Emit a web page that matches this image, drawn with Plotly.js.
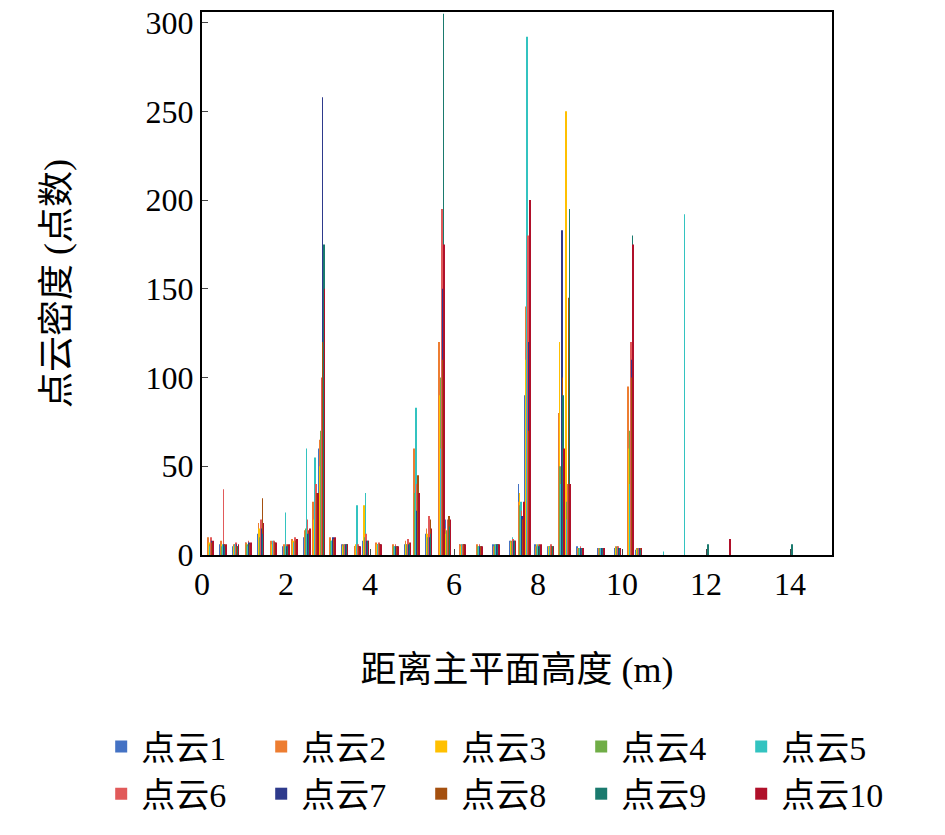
<!DOCTYPE html>
<html><head><meta charset="utf-8">
<script src="https://cdn.plot.ly/plotly-3.0.1.min.js"></script>
<style>body{margin:0;background:#fff}</style></head>
<body><div id="chart" style="width:945px;height:835px"></div>
<script>
// bar positions (m), shared by all point clouds
var heights = [0.2,0.5,0.8,1.1,1.4,1.7,2.0,2.2,2.5,2.7,2.85,3.1,3.4,3.7,3.9,4.2,4.6,4.9,5.1,5.4,5.7,5.85,6.2,6.6,7.0,7.4,7.6,7.75,8.0,8.3,8.55,8.7,9.0,9.5,9.9,10.2,10.4,11.0,11.5,12.0,12.5,13.0,14.0];

var names = ['点云1','点云2','点云3','点云4','点云5','点云6','点云7','点云8','点云9','点云10'];
var colors = ['#4472C4','#ED7D31','#FFC000','#70AD47','#33C3C0','#E15A5A','#2E3A8C','#A5500F','#1A7A6E','#B0102A'];

var cloud1 = [8,6,5,7,12,6,5,7,10,25,60,8,6,5,8,6,5,6,30,12,80,20,6,5,6,8,40,90,6,5,60,20,5,4,4,45,3,0,0,0,0,0,0];
var cloud2 = [10,8,6,7,18,8,6,9,14,30,65,10,6,5,6,7,6,8,60,15,120,15,6,6,5,8,30,140,5,5,80,45,4,4,5,95,4,0,0,0,0,0,0];
var cloud3 = [7,6,5,6,15,6,5,8,12,20,50,8,5,6,28,6,5,6,25,12,90,12,5,5,5,7,35,110,6,5,120,250,4,4,4,60,3,0,0,0,0,0,0];
var cloud4 = [6,5,6,6,10,7,5,7,15,22,70,8,6,5,10,6,5,6,35,10,100,14,6,5,6,8,28,200,5,5,50,30,4,4,5,70,4,0,0,0,0,0,0];
var cloud5 = [5,6,6,5,12,8,24,7,60,55,40,8,6,28,35,6,5,7,83,12,60,18,6,5,6,10,30,292,6,5,40,20,4,4,4,40,4,2,192,0,0,0,0];
var cloud6 = [10,37,7,8,20,8,6,10,20,40,100,9,6,6,12,7,6,9,40,22,195,20,6,6,6,9,25,180,6,6,70,40,5,4,5,120,4,0,0,0,0,0,0];
var cloud7 = [8,6,6,7,15,7,5,8,12,30,258,10,6,5,8,6,5,6,25,10,150,15,6,5,6,8,22,120,5,5,183,50,4,4,4,110,4,0,0,0,0,0,0];
var cloud8 = [7,6,5,6,32,7,6,8,14,35,120,9,6,5,7,6,5,7,45,20,110,22,6,5,6,8,20,70,6,5,100,145,4,4,4,100,4,0,0,0,0,0,0];
var cloud9 = [6,5,5,6,12,6,5,7,12,28,175,8,6,5,8,6,5,6,30,12,305,16,6,5,6,8,25,160,5,5,90,195,4,4,4,180,3,0,0,6,0,0,6];
var cloud10 = [8,6,6,7,18,7,6,9,15,35,150,10,6,5,8,6,5,7,35,15,175,20,6,5,6,8,30,200,6,5,60,40,4,4,4,175,4,0,0,0,9,0,0];

var clouds = [cloud1,cloud2,cloud3,cloud4,cloud5,cloud6,cloud7,cloud8,cloud9,cloud10];

var traces = clouds.map(function(v, i){
  return {x: heights, y: v, type: 'bar', name: names[i], marker: {color: colors[i]}};
});

var fnt = 'Liberation Serif, Noto Sans CJK SC, serif';
var layout = {
  width: 945, height: 835,
  margin: {l: 202, r: 113, t: 12, b: 280, autoexpand: false},
  paper_bgcolor: '#fff', plot_bgcolor: '#fff',
  font: {family: fnt, size: 32, color: '#000'},
  barmode: 'group', bargap: 0.02, bargroupgap: 0,
  showlegend: true,
  xaxis: {range: [0, 15], dtick: 2, showline: true, mirror: true, linecolor: '#000', linewidth: 2,
          ticks: 'inside', ticklen: 6, showgrid: false, zeroline: false,
          title: {text: '距离主平面高度 (m)', font: {size: 36}, standoff: 55}},
  yaxis: {range: [0, 306], dtick: 50, showline: true, mirror: true, linecolor: '#000', linewidth: 2,
          ticks: 'inside', ticklen: 6, showgrid: false, zeroline: false,
          title: {text: '点云密度 (点数)', font: {size: 36}, standoff: 65}},
  legend: {orientation: 'h', x: -0.16, xanchor: 'left', y: -0.30, yanchor: 'top',
           entrywidth: 115, font: {size: 34}, itemwidth: 30, tracegroupgap: 0}
};

Plotly.newPlot('chart', traces, layout, {displayModeBar: false});
</script></body></html>
